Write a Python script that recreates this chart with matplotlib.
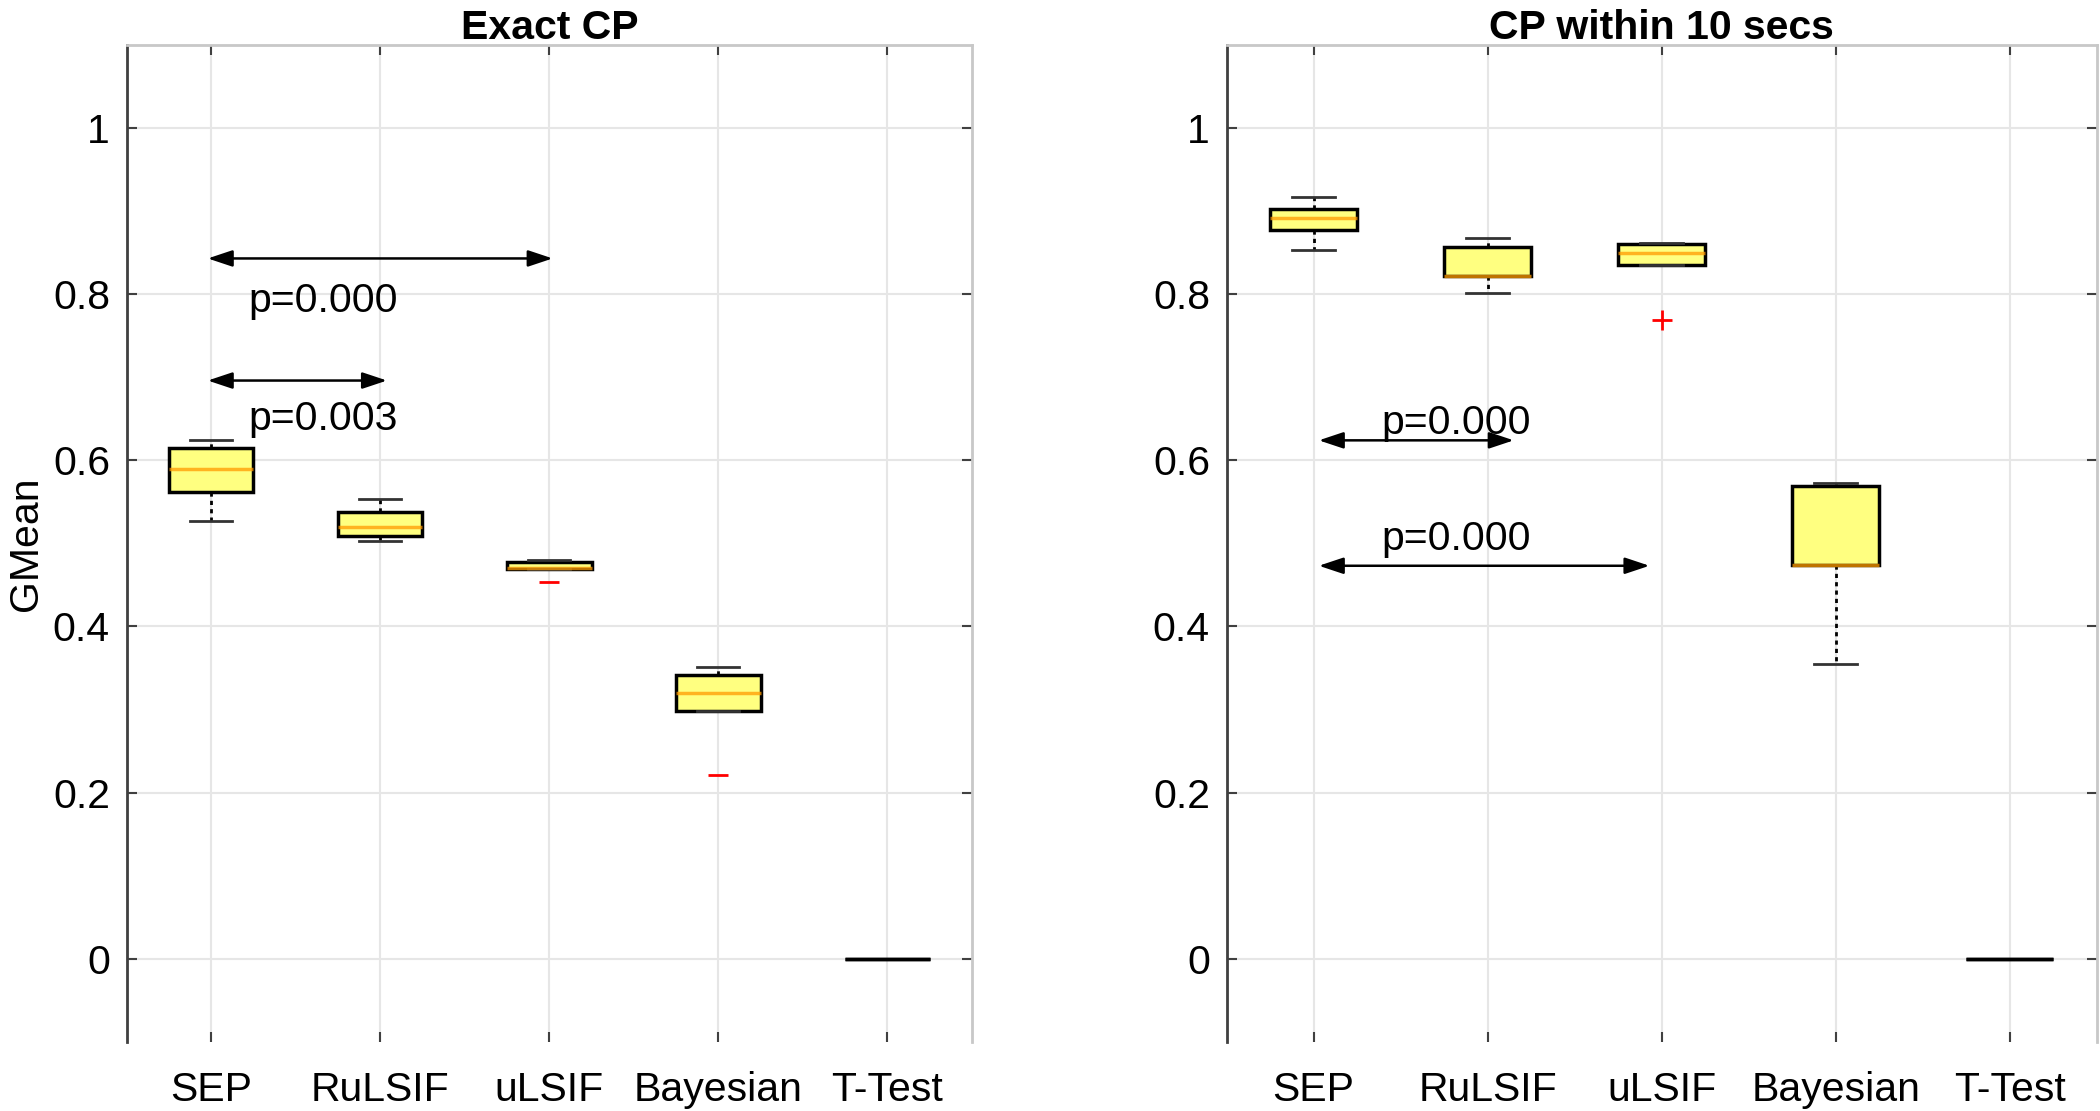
import matplotlib
matplotlib.use('Agg')
import matplotlib.pyplot as plt
import numpy as np

plt.rcParams['font.family'] = ['Liberation Sans', 'DejaVu Sans']

# data
methods = ['SEP', 'RuLSIF', 'uLSIF', 'Bayesian', 'T-Test']

exact_q1 = [0.562, 0.509, 0.469, 0.298, 0.0]
exact_med = [0.589, 0.520, 0.470, 0.320, 0.0]
exact_q3 = [0.615, 0.5375, 0.478, 0.341, 0.0]
exact_lo = [0.527, 0.503, 0.469, 0.298, 0.0]
exact_hi = [0.625, 0.553, 0.480, 0.351, 0.0]
exact_out = [[], [], [0.4535], [0.2215], []]

within_q1 = [0.877, 0.822, 0.835, 0.474, 0.0]
within_med = [0.892, 0.822, 0.8495, 0.474, 0.0]
within_q3 = [0.902, 0.857, 0.861, 0.569, 0.0]
within_lo = [0.8535, 0.802, 0.835, 0.355, 0.0]
within_hi = [0.917, 0.868, 0.862, 0.5725, 0.0]
within_out = [[], [], [0.7687], [], []]

# significance brackets: (from, to, y, label)
exact_tests = [(0.98, 3.02, 0.843, 'p=0.000'), (0.98, 2.04, 0.696, 'p=0.003')]
within_tests = [(1.03, 2.15, 0.624, 'p=0.000'), (1.03, 2.93, 0.473, 'p=0.000')]
exact_text_y = [0.792, 0.650]
within_text_y = [0.645, 0.505]

yticks = [0, 0.2, 0.4, 0.6, 0.8, 1]
ytick_labels = ['0', '0.2', '0.4', '0.6', '0.8', '1']

FS = 29.5


def make_stats(q1, med, q3, lo, hi, out):
    stats = []
    for i in range(len(methods)):
        stats.append(dict(label=methods[i], q1=q1[i], med=med[i], q3=q3[i],
                          whislo=lo[i], whishi=hi[i], fliers=out[i]))
    return stats


def draw_panel(ax, stats, tests, text_y, text_x, title, flier_marker):
    pos = np.arange(1, len(methods) + 1)
    res = ax.bxp(stats, positions=pos, widths=0.5, capwidths=0.25,
                 patch_artist=True, showfliers=True,
                 boxprops=dict(facecolor='#ffff80', edgecolor='black', linewidth=2.5),
                 medianprops=dict(color='#ff9a00', linewidth=2.5, alpha=0.75),
                 whiskerprops=dict(color='black', linewidth=2, linestyle=(0, (1.5, 1.5))),
                 capprops=dict(color='#333333', linewidth=2),
                 flierprops=dict(marker=flier_marker, markeredgecolor='red',
                                 markersize=14, markeredgewidth=2, linestyle='none'))
    for s, m in zip(stats, res['medians']):
        if s['q1'] == s['q3']:
            m.set_color('black')
            m.set_alpha(1)

    for (x0, x1, y, lab), ty in zip(tests, text_y):
        ax.annotate('', xy=(x1, y), xytext=(x0, y),
                    arrowprops=dict(arrowstyle='<|-|>,head_length=0.75,head_width=0.25',
                                    color='black', lw=1.8, shrinkA=0, shrinkB=0,
                                    mutation_scale=20))
        ax.text(text_x, ty, lab, fontsize=FS, va='center', ha='left')

    ax.set_xlim(0.5, 5.5)
    ax.set_ylim(-0.1, 1.1)
    ax.set_xticks(pos)
    ax.set_xticklabels(methods, fontsize=FS)
    ax.set_yticks(yticks)
    ax.set_yticklabels(ytick_labels, fontsize=FS)
    ax.grid(True, color='#e6e6e6', linewidth=1.5)
    ax.set_axisbelow(True)
    ax.tick_params(direction='in', length=7, width=1.5, color='#404040',
                   top=True, right=True, labelsize=FS)
    ax.tick_params(axis='x', pad=21)
    ax.tick_params(axis='y', pad=12)
    ax.spines['left'].set_color('#404040')
    ax.spines['left'].set_linewidth(2)
    for side in ['top', 'right']:
        ax.spines[side].set_color('#c8c8c8')
        ax.spines[side].set_linewidth(2)
    ax.spines['bottom'].set_visible(False)
    ax.set_title(title, fontsize=FS, fontweight='bold', pad=4)


fig = plt.figure(figsize=(21, 11.11), dpi=100)
ax1 = fig.add_axes([0.0603, 0.0624, 0.4025, 0.8971])
ax2 = fig.add_axes([0.5841, 0.0624, 0.4143, 0.8971])

draw_panel(ax1, make_stats(exact_q1, exact_med, exact_q3, exact_lo, exact_hi, exact_out),
           exact_tests, exact_text_y, 1.22, 'Exact CP', '_')
draw_panel(ax2, make_stats(within_q1, within_med, within_q3, within_lo, within_hi, within_out),
           within_tests, within_text_y, 1.39, 'CP within 10 secs', '+')
ax1.set_ylabel('GMean', fontsize=FS, labelpad=6)

fig.savefig('out.png', dpi=100)
